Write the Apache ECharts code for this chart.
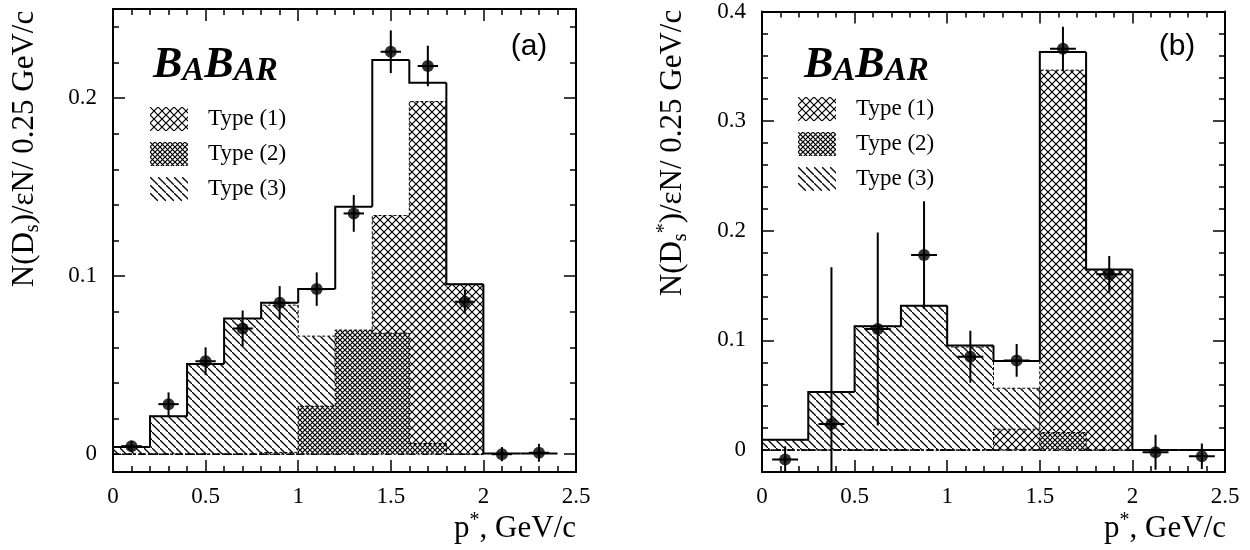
<!DOCTYPE html>
<html>
<head>
<meta charset="utf-8">
<script src="https://cdn.jsdelivr.net/npm/echarts@6/dist/echarts.min.js"></script>
<style>
html, body { margin: 0; padding: 0; background: #fff; }
#chart { width: 1250px; height: 550px; }
</style>
</head>
<body>
<div id="chart"></div>
<script>
// panel (a): D_s, 0.2 GeV/c bins
var edgesA = [0, 0.2, 0.4, 0.6, 0.8, 1.0, 1.2, 1.4, 1.6, 1.8, 2.0, 2.2, 2.4];
var totalA = [0.004, 0.0213, 0.0506, 0.0762, 0.085, 0.0927, 0.139, 0.2213, 0.2086, 0.0955, 0.0004, 0.0004];
var type1A = [0, 0, 0, 0, 0.001, 0, 0.028, 0.134, 0.198, 0.0955];
var type2A = [0, 0, 0, 0, 0, 0.027, 0.0697, 0.068, 0.006, 0];
var type3A = [0.004, 0.0213, 0.0506, 0.0762, 0.0837, 0.0663, 0.0416, 0.02, 0.005, 0];
var ptXA = [0.1, 0.3, 0.5, 0.7, 0.9, 1.1, 1.3, 1.5, 1.7, 1.9, 2.1, 2.3];
var ptYA = [0.0045, 0.0281, 0.0522, 0.0706, 0.085, 0.0927, 0.1352, 0.226, 0.218, 0.0856, 0, 0.0008];
var ptErrA = [0.003, 0.0066, 0.0078, 0.0101, 0.0094, 0.0094, 0.0103, 0.012, 0.0114, 0.0067, 0.004, 0.005];
var xErrA = 0.055;

// panel (b): D_s*, 0.25 GeV/c bins
var edgesB = [0, 0.25, 0.5, 0.75, 1.0, 1.25, 1.5, 1.75, 2.0, 2.25, 2.5];
var totalB = [0.0093, 0.053, 0.113, 0.1317, 0.0954, 0.0812, 0.363, 0.1647, 0, 0];
var type1B = [0, 0, 0, 0, 0, 0.019, 0.3465, 0.1647];
var type2B = [0, 0, 0, 0, 0, 0, 0.016, 0];
var type3B = [0.0093, 0.053, 0.113, 0.1317, 0.094, 0.0564, 0, 0];
var ptXB = [0.125, 0.375, 0.625, 0.875, 1.125, 1.375, 1.625, 1.875, 2.125, 2.375];
var ptYB = [-0.0086, 0.0238, 0.1105, 0.178, 0.0851, 0.0818, 0.366, 0.1604, -0.002, -0.0056];
var ptErrB = [0.012, 0.143, 0.088, 0.049, 0.0237, 0.015, 0.02, 0.0167, 0.016, 0.0116];
var xErrB = 0.07;

var xTicks = [0, 2.5, 0.5];      // min, max, major step
var yRangeA = [-0.01, 0.25];
var yRangeB = [-0.02, 0.4];
var typeNames = ['Type (1)', 'Type (2)', 'Type (3)'];

var SERIF = 'Liberation Serif';
var SANS = 'Liberation Sans';

function hatch(size, both, width) {
  var c = document.createElement('canvas');
  c.width = size;
  c.height = size;
  var g = c.getContext('2d');
  g.fillStyle = '#fff';
  g.fillRect(0, 0, size, size);
  g.strokeStyle = '#000';
  g.lineWidth = width;
  g.beginPath();
  g.moveTo(-1, -1);
  g.lineTo(size + 1, size + 1);
  if (both) {
    g.moveTo(size + 1, -1);
    g.lineTo(-1, size + 1);
  }
  g.stroke();
  return { image: c, repeat: 'repeat' };
}
var pat1 = hatch(8, true, 1.2);
var pat2 = hatch(5, true, 1.2);
var pat3 = hatch(8, false, 1.3);

function bins(edges, vals) {
  return vals.map(function (v, i) {
    var next = i < vals.length - 1 ? vals[i + 1] : 0;
    return [edges[i], edges[i + 1], v, i ? vals[i - 1] : 0, next];
  });
}
function points(xs, ys) {
  return xs.map(function (x, i) { return [x, ys[i]]; });
}
function errs(xs, ys, ex, ey) {
  return xs.map(function (x, i) { return [x, ys[i], ex, ey[i]]; });
}

// hatched component: fill + dashed step outline + dash-dot baseline
function fillRender(pattern) {
  return function (params, api) {
    var lo = api.value(0), hi = api.value(1), v = api.value(2), prev = api.value(3);
    var last = params.dataIndex === params.dataInsideLength - 1;
    var p0 = api.coord([lo, 0]);
    var p1 = api.coord([hi, v]);
    var outline = [api.coord([lo, prev]), api.coord([lo, v]), api.coord([hi, v])];
    if (last) outline.push(api.coord([hi, 0]));
    var dash = { fill: 'none', stroke: '#000', lineWidth: 1, lineDash: [3, 2] };
    return {
      type: 'group',
      children: [
        { type: 'rect', shape: { x: p0[0], y: p1[1], width: p1[0] - p0[0], height: p0[1] - p1[1] },
          style: { fill: pattern } },
        { type: 'polyline', shape: { points: outline }, style: dash },
        { type: 'line', shape: { x1: p0[0], y1: p0[1], x2: p1[0], y2: p0[1] },
          style: { stroke: '#000', lineWidth: 1, lineDash: [6, 3, 1, 3] } }
      ]
    };
  };
}

function stepRender(params, api) {
  var lo = api.value(0), hi = api.value(1), v = api.value(2), prev = api.value(3);
  var a = api.coord([lo, prev]);
  var b = api.coord([lo, v]);
  var c = api.coord([hi, v]);
  return {
    type: 'polyline',
    shape: { points: [a, b, c] },
    style: { fill: 'none', stroke: '#000', lineWidth: 2 }
  };
}

function errRender(params, api) {
  var x = api.value(0), y = api.value(1), ex = api.value(2), ey = api.value(3);
  var l = api.coord([x - ex, y]), r = api.coord([x + ex, y]);
  var t = api.coord([x, y + ey]), b = api.coord([x, y - ey]);
  var st = { stroke: '#000', lineWidth: 2 };
  return {
    type: 'group',
    children: [
      { type: 'line', shape: { x1: l[0], y1: l[1], x2: r[0], y2: r[1] }, style: st },
      { type: 'line', shape: { x1: t[0], y1: t[1], x2: b[0], y2: b[1] }, style: st }
    ]
  };
}

function yLabel(v) {
  return Math.abs(Math.round(v * 10) - v * 10) < 1e-6 ? String(+v.toFixed(1)) : '';
}

var lineSt = { color: '#000', width: 2 };
var tickSt = { color: '#000', width: 1.5 };

function xAxisCfg(grid, pos) {
  return {
    type: 'value', gridIndex: grid, position: pos,
    min: xTicks[0], max: xTicks[1], interval: xTicks[2],
    axisLine: { show: true, onZero: false, lineStyle: lineSt },
    axisTick: { show: true, inside: true, length: 12, lineStyle: tickSt },
    minorTick: { show: true, splitNumber: 5, length: 6, lineStyle: tickSt },
    splitLine: { show: false },
    minorSplitLine: { show: false },
    axisLabel: { show: pos === 'bottom', margin: 13, color: '#000', fontFamily: SERIF, fontSize: 23 }
  };
}
function yAxisCfg(grid, pos, range) {
  return {
    type: 'value', gridIndex: grid, position: pos,
    min: range[0], max: range[1], splitNumber: 3, minInterval: 0.1, maxInterval: 0.1,
    axisLine: { show: true, onZero: false, lineStyle: lineSt },
    axisTick: { show: true, inside: true, length: 12, lineStyle: tickSt },
    minorTick: { show: true, splitNumber: 5, length: 6, lineStyle: tickSt },
    splitLine: { show: false },
    minorSplitLine: { show: false },
    axisLabel: {
      show: pos === 'left', margin: 16, color: '#000', fontFamily: SERIF, fontSize: 23,
      formatter: yLabel
    }
  };
}

function panelSeries(xi, yi, t1, t2, t3, edges, total, px, py, ex, ey) {
  return [
    { name: typeNames[2], type: 'custom', xAxisIndex: xi, yAxisIndex: yi, renderItem: fillRender(pat3),
      itemStyle: { color: pat3 }, encode: { x: [0, 1], y: 2 }, data: bins(edges, t3), z: 2 },
    { name: typeNames[0], type: 'custom', xAxisIndex: xi, yAxisIndex: yi, renderItem: fillRender(pat1),
      itemStyle: { color: pat1 }, encode: { x: [0, 1], y: 2 }, data: bins(edges, t1), z: 3 },
    { name: typeNames[1], type: 'custom', xAxisIndex: xi, yAxisIndex: yi, renderItem: fillRender(pat2),
      itemStyle: { color: pat2 }, encode: { x: [0, 1], y: 2 }, data: bins(edges, t2), z: 4 },
    { name: 'total', type: 'custom', xAxisIndex: xi, yAxisIndex: yi, renderItem: stepRender,
      encode: { x: [0, 1], y: [2, 3] }, data: bins(edges, total), z: 5 },
    { name: 'err', type: 'custom', xAxisIndex: xi, yAxisIndex: yi, renderItem: errRender, clip: true,
      encode: { x: 0, y: 1 }, data: errs(px, py, ex, ey), z: 6 },
    { name: 'data', type: 'scatter', xAxisIndex: xi, yAxisIndex: yi, symbol: 'circle', symbolSize: 12,
      itemStyle: { color: '#000' }, data: points(px, py), z: 7 }
  ];
}

function legendCfg(left, top) {
  return {
    orient: 'vertical', left: left, top: top, padding: 0, icon: 'rect', selectedMode: false,
    itemWidth: 38, itemHeight: 24, itemGap: 11,
    textStyle: { color: '#000', fontFamily: SERIF, fontSize: 23, padding: [6, 0, 0, 15] },
    data: [
      { name: typeNames[0], itemStyle: { color: pat1, borderWidth: 0 } },
      { name: typeNames[1], itemStyle: { color: pat2, borderWidth: 0 } },
      { name: typeNames[2], itemStyle: { color: pat3, borderWidth: 0 } }
    ]
  };
}

var richLabel = {
  s: { fontFamily: SERIF, fontSize: 20, lineHeight: 10, verticalAlign: 'bottom' },
  u: { fontFamily: SERIF, fontSize: 20, lineHeight: 20, verticalAlign: 'top' }
};
function titleText(x, y, text, rot, align) {
  return {
    type: 'text', x: x, y: y, rotation: rot,
    style: {
      text: text, rich: richLabel, fill: '#000', fontFamily: SERIF, fontSize: 31, lineHeight: 36,
      align: align, verticalAlign: 'middle', textAlign: align, textVerticalAlign: 'middle'
    }
  };
}
var babarRich = {
  b: { fontFamily: SERIF, fontSize: 44, fontWeight: 'bold', fontStyle: 'italic', lineHeight: 44, verticalAlign: 'bottom' },
  a: { fontFamily: SERIF, fontSize: 33, fontWeight: 'bold', fontStyle: 'italic', lineHeight: 33, verticalAlign: 'bottom' }
};
function babar(x, y) {
  return {
    type: 'text', x: x, y: y,
    style: {
      text: '{b|B}{a|A}{b|B}{a|AR}', rich: babarRich, fill: '#000',
      align: 'left', verticalAlign: 'bottom', textAlign: 'left', textVerticalAlign: 'bottom'
    }
  };
}
function tag(x, y, text) {
  return {
    type: 'text', x: x, y: y,
    style: {
      text: text, fill: '#000', fontFamily: SANS, fontSize: 30,
      align: 'center', verticalAlign: 'middle', textAlign: 'center', textVerticalAlign: 'middle'
    }
  };
}

var chart = echarts.init(document.getElementById('chart'));
chart.setOption({
  animation: false,
  backgroundColor: '#fff',
  grid: [
    { left: 113, width: 463, top: 9, height: 463 },
    { left: 762, width: 463, top: 9, height: 463 }
  ],
  xAxis: [xAxisCfg(0, 'bottom'), xAxisCfg(0, 'top'), xAxisCfg(1, 'bottom'), xAxisCfg(1, 'top')],
  yAxis: [yAxisCfg(0, 'left', yRangeA), yAxisCfg(0, 'right', yRangeA),
          yAxisCfg(1, 'left', yRangeB), yAxisCfg(1, 'right', yRangeB)],
  legend: [legendCfg(150, 107), legendCfg(798, 97)],
  series: panelSeries(0, 0, type1A, type2A, type3A, edgesA, totalA, ptXA, ptYA, xErrA, ptErrA)
    .concat(panelSeries(2, 2, type1B, type2B, type3B, edgesB, totalB, ptXB, ptYB, xErrB, ptErrB)),
  graphic: [
    titleText(25, 149, 'N(D{s|s})/εN/ 0.25 GeV/c', Math.PI / 2, 'center'),
    titleText(673, 153, 'N(D{s|s}{u|*})/εN/ 0.25 GeV/c', Math.PI / 2, 'center'),
    titleText(576, 529, 'p{u|*}, GeV/c', 0, 'right'),
    titleText(1226, 529, 'p{u|*}, GeV/c', 0, 'right'),
    babar(153, 88),
    babar(804, 88),
    tag(529, 47, '(a)'),
    tag(1177, 47, '(b)')
  ]
});
</script>
</body>
</html>
